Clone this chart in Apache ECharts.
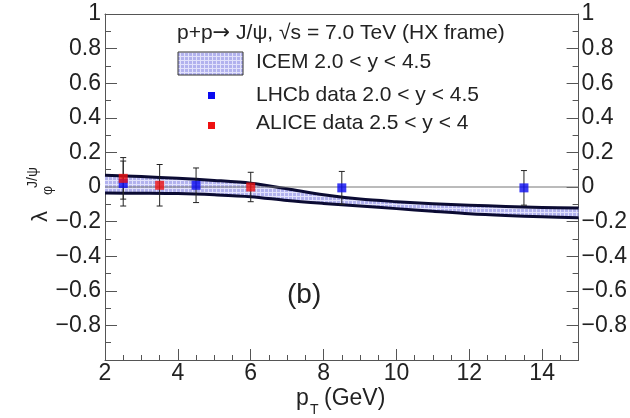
<!DOCTYPE html>
<html>
<head>
<meta charset="utf-8">
<script src="https://cdn.jsdelivr.net/npm/echarts@6/dist/echarts.min.js"></script>
<style>html,body{margin:0;padding:0;background:#fff;}#c{width:630px;height:418px;}</style>
</head>
<body>
<div id="c"></div>
<script>
// ICEM band (pT grid, upper and lower edges)
var bandX = [2, 3, 4, 5, 6, 7, 8, 9, 10, 11, 12, 13, 14, 15];
var bandUpper = [0.068, 0.060, 0.050, 0.038, 0.022, -0.010, -0.045, -0.070, -0.085, -0.097, -0.105, -0.112, -0.118, -0.122];
var bandLower = [-0.035, -0.036, -0.038, -0.045, -0.056, -0.078, -0.095, -0.110, -0.125, -0.140, -0.155, -0.165, -0.172, -0.178];
// LHCb data
var lhcbX = [2.5, 4.5, 8.5, 13.5];
var lhcbY = [0.02, 0.01, -0.005, -0.005];
var lhcbErr = [0.13, 0.10, 0.095, 0.10];
// ALICE data
var aliceX = [2.5, 3.5, 6];
var aliceY = [0.05, 0.01, 0.0];
var aliceErr = [0.12, 0.12, 0.085];
// axis ticks
var xTicks = [2, 4, 6, 8, 10, 12, 14];
var yTicks = [-0.8, -0.6, -0.4, -0.2, 0, 0.2, 0.4, 0.6, 0.8, 1];

var FONT = '"Liberation Sans", Arial, Helvetica, sans-serif';

function makePattern() {
  var cv = document.createElement('canvas');
  cv.width = 4; cv.height = 4;
  var g = cv.getContext('2d');
  g.fillStyle = '#b2b2ee';
  g.fillRect(0, 0, 4, 4);
  g.fillStyle = '#e2e2fb';
  g.fillRect(0, 0, 4, 1);
  g.fillRect(0, 0, 1, 4);
  return {image: cv, repeat: 'repeat'};
}
var pattern = makePattern();

function pairs(xs, ys) { return xs.map(function (x, i) { return [x, ys[i]]; }); }
function errData(xs, ys, es) { return xs.map(function (x, i) { return [x, ys[i], es[i]]; }); }
var bandData = bandX.map(function (x, i) { return [x, bandUpper[i], bandLower[i]]; });

function bandRender(params, api) {
  if (params.dataIndex !== 0) return null;
  var up = [], lo = [];
  for (var i = 0; i < bandX.length; i++) {
    up.push(api.coord([bandX[i], bandUpper[i]]));
    lo.push(api.coord([bandX[i], bandLower[i]]));
  }
  var poly = up.concat(lo.slice().reverse());
  var edge = {stroke: '#0b0b33', lineWidth: 3, fill: null, lineJoin: 'round'};
  return {
    type: 'group',
    children: [
      {type: 'polygon', shape: {points: poly}, style: {fill: pattern, stroke: null}},
      {type: 'polyline', shape: {points: up, smooth: 0.3}, style: edge},
      {type: 'polyline', shape: {points: lo, smooth: 0.3}, style: edge}
    ]
  };
}

function errRender(params, api) {
  var x = api.value(0), y = api.value(1), e = api.value(2);
  var top = api.coord([x, y + e]);
  var bot = api.coord([x, y - e]);
  var w = 3;
  var st = {stroke: '#222', lineWidth: 1};
  return {
    type: 'group',
    children: [
      {type: 'line', shape: {x1: top[0], y1: top[1], x2: bot[0], y2: bot[1]}, style: st},
      {type: 'line', shape: {x1: top[0] - w, y1: top[1], x2: top[0] + w, y2: top[1]}, style: st},
      {type: 'line', shape: {x1: bot[0] - w, y1: bot[1], x2: bot[0] + w, y2: bot[1]}, style: st}
    ]
  };
}

function yFmt(v) {
  var r = Math.round(v * 10) / 10;
  if (Math.abs(r) < 1e-9) return '0';
  return (r < 0 ? '\u2212' : '') + String(Math.abs(r));
}

var axisCol = '#555';
var LBL = 23;

var chart = echarts.init(document.getElementById('c'), null, {renderer: 'canvas'});
chart.setOption({
  animation: false,
  backgroundColor: '#ffffff',
  grid: {left: 105, right: 47, top: 14, bottom: 58},
  xAxis: [
    {type: 'value', min: 2, max: 15, interval: 2, position: 'bottom',
     axisLine: {show: true, onZero: false, lineStyle: {color: axisCol, width: 1}},
     axisTick: {show: true, inside: true, length: 11, lineStyle: {color: axisCol}},
     axisLabel: {show: true, fontSize: LBL, color: '#222', fontFamily: FONT, margin: 2,
                 showMaxLabel: false,
                 formatter: function (v) { return xTicks.indexOf(v) >= 0 ? String(v) : ''; }},
     splitLine: {show: false}},
    {type: 'value', min: 2, max: 15, interval: 0.5, position: 'bottom', offset: 0,
     axisLine: {show: false, onZero: false},
     axisTick: {show: true, inside: true, length: 5, lineStyle: {color: axisCol}},
     axisLabel: {show: false}, splitLine: {show: false}},
    {type: 'value', min: 2, max: 15, position: 'top',
     axisLine: {show: true, onZero: false, lineStyle: {color: axisCol, width: 1}},
     axisTick: {show: false}, axisLabel: {show: false}, splitLine: {show: false}}
  ],
  yAxis: [
    {type: 'value', min: -1, max: 1, interval: 0.2, position: 'left',
     axisLine: {show: true, onZero: false, lineStyle: {color: axisCol, width: 1}},
     axisTick: {show: true, inside: true, length: 12, lineStyle: {color: axisCol}},
     minorTick: {show: true, splitNumber: 2, length: 6, lineStyle: {color: axisCol}},
     axisLabel: {show: true, fontSize: LBL, color: '#222', fontFamily: FONT, margin: 4,
                 showMinLabel: false, formatter: yFmt},
     splitLine: {show: false}, minorSplitLine: {show: false}},
    {type: 'value', min: -1, max: 1, interval: 0.2, position: 'right',
     axisLine: {show: true, onZero: false, lineStyle: {color: axisCol, width: 1}},
     axisTick: {show: true, inside: true, length: 12, lineStyle: {color: axisCol}},
     minorTick: {show: true, splitNumber: 2, length: 6, lineStyle: {color: axisCol}},
     axisLabel: {show: true, fontSize: LBL, color: '#222', fontFamily: FONT, margin: 3,
                 showMinLabel: false, formatter: yFmt},
     splitLine: {show: false}, minorSplitLine: {show: false}}
  ],
  series: [
    {type: 'custom', name: 'ICEM', renderItem: bandRender, data: bandData, z: 2, silent: true},
    {type: 'line', name: 'zero', data: [[2, 0], [15, 0]], symbol: 'none',
     lineStyle: {color: '#777', width: 1}, z: 4},
    {type: 'custom', name: 'lhcbErr', renderItem: errRender, data: errData(lhcbX, lhcbY, lhcbErr), z: 5},
    {type: 'custom', name: 'aliceErr', renderItem: errRender, data: errData(aliceX, aliceY, aliceErr), z: 5},
    {type: 'scatter', name: 'LHCb', data: pairs(lhcbX, lhcbY), symbol: 'rect', symbolSize: 9,
     itemStyle: {color: '#0a0af0'}, z: 6},
    {type: 'scatter', name: 'ALICE', data: pairs(aliceX, aliceY), symbol: 'rect', symbolSize: 9,
     itemStyle: {color: '#ee1111'}, z: 7}
  ],
  graphic: [
    {type: 'text', left: 177, top: 23, style: {
      text: 'p+p{ar|\u2192} J/\u03c8, \u221as = 7.0 TeV (HX frame)', fontSize: 21, fontFamily: FONT, fill: '#222',
      rich: {ar: {fontFamily: '"DejaVu Sans"', fontSize: 21, fill: '#222'}}}},
    {type: 'rect', shape: {x: 178, y: 52, width: 65, height: 23}, style: {fill: pattern, stroke: '#333', lineWidth: 1}},
    {type: 'text', left: 256, top: 52, style: {text: 'ICEM 2.0 < y < 4.5', fontSize: 21, fontFamily: FONT, fill: '#222'}},
    {type: 'rect', shape: {x: 208, y: 92, width: 7, height: 7}, style: {fill: '#0a0af0'}},
    {type: 'text', left: 256, top: 85, style: {text: 'LHCb data 2.0 < y < 4.5', fontSize: 21, fontFamily: FONT, fill: '#222'}},
    {type: 'rect', shape: {x: 208, y: 122, width: 7, height: 7}, style: {fill: '#ee1111'}},
    {type: 'text', left: 256, top: 113, style: {text: 'ALICE data 2.5 < y < 4', fontSize: 21, fontFamily: FONT, fill: '#222'}},
    {type: 'text', left: 287, top: 281, style: {text: '(b)', fontSize: 28, fontFamily: FONT, fill: '#222'}},
    // x axis title
    {type: 'text', x: 296, y: 399, style: {text: 'p', fontSize: 23, fontFamily: FONT, fill: '#222', textVerticalAlign: 'middle'}},
    {type: 'text', x: 310, y: 410, style: {text: 'T', fontSize: 14, fontFamily: FONT, fill: '#222', textVerticalAlign: 'middle'}},
    {type: 'text', x: 324, y: 399, style: {text: '(GeV)', fontSize: 23, fontFamily: FONT, fill: '#222', textVerticalAlign: 'middle'}},
    // y axis title (rotated)
    {type: 'text', x: 41, y: 222, rotation: Math.PI / 2, style: {text: '\u03bb', fontSize: 22, fontFamily: FONT, fill: '#222', textAlign: 'left', textVerticalAlign: 'middle'}},
    {type: 'text', x: 48, y: 195, rotation: Math.PI / 2, style: {text: '\u03c6', fontSize: 14, fontFamily: FONT, fill: '#222', textAlign: 'left', textVerticalAlign: 'middle'}},
    {type: 'text', x: 33, y: 188, rotation: Math.PI / 2, style: {text: 'J/\u03c8', fontSize: 14, fontFamily: FONT, fill: '#222', textAlign: 'left', textVerticalAlign: 'middle'}}
  ]
});
</script>
</body>
</html>
